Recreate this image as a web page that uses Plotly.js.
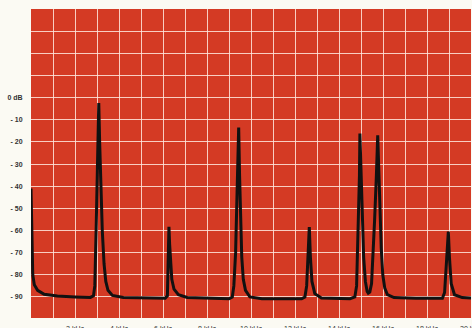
<!DOCTYPE html>
<html>
<head>
<meta charset="utf-8">
<script src="https://cdn.plot.ly/plotly-3.0.1.min.js"></script>
<style>
html,body{margin:0;padding:0;background:#fbfaf3;}
#chart{width:472px;height:328px;}
</style>
</head>
<body>
<div id="chart"></div>
<script>
// frequency (kHz) and level (dB)
const freqKHz = [
  0.0, 0.03, 0.08, 0.15, 0.3, 0.6, 1.2, 2.0, 2.7,
  2.84, 2.9, 2.96, 3.0, 3.05, 3.08, 3.12, 3.17, 3.24, 3.32, 3.4, 3.5, 3.7, 4.2, 5.0,
  6.1, 6.2, 6.23, 6.27, 6.3, 6.34, 6.4, 6.5, 6.7, 7.1, 8.0, 9.0,
  9.15, 9.22, 9.3, 9.36, 9.41, 9.44, 9.48, 9.52, 9.58, 9.65, 9.75, 9.95, 10.5, 12.3,
  12.45, 12.53, 12.6, 12.65, 12.7, 12.77, 12.9, 13.2, 14.5,
  14.72, 14.8, 14.88, 14.93, 14.95, 15.0, 15.06, 15.12, 15.2, 15.28, 15.33,
  15.4, 15.48, 15.55, 15.62, 15.7, 15.76, 15.8, 15.86, 15.92, 15.99, 16.08, 16.2, 16.5, 17.5,
  18.7, 18.8, 18.88, 18.97, 19.02, 19.1, 19.25, 19.6, 20.0
];
const levelDB = [
  -41, -60, -80, -84.5, -87, -88.8, -89.6, -90, -90.2,
  -89.5, -85, -60, -40, -15, -2.5, -20, -40, -60, -75, -83, -87, -89.3, -90.2, -90.5,
  -90.6, -89.5, -80, -58.3, -66, -75, -82, -86.5, -89, -90.2, -90.6, -90.8,
  -90, -85, -70, -50, -30, -13.5, -35, -55, -72, -82, -87, -90, -90.8, -90.8,
  -90, -85, -70, -58.5, -72, -83, -88.5, -90.5, -90.8,
  -90, -85, -60, -35, -16.2, -35, -55, -72, -83, -87.5, -88.3,
  -87.8, -84, -72, -55, -35, -17, -30, -50, -68, -80, -86, -89, -90.3, -90.6,
  -90.6, -88, -75, -60.5, -72, -84, -89, -90.3, -90.5
];

// axis ticks
const xTickVals = [0,1,2,3,4,5,6,7,8,9,10,11,12,13,14,15,16,17,18,19,20];
const xTickText = ["","","2 kHz","","4 kHz","","6 kHz","","8 kHz","","10 kHz","","12 kHz","","14 kHz","","16 kHz","","18 kHz","","20 kHz"];
const yTickVals = [30,20,10,0,-10,-20,-30,-40,-50,-60,-70,-80,-90];
const yTickText = ["","","","0 dB","- 10","- 20","- 30","- 40","- 50","- 60","- 70","- 80","- 90"];

const trace = {
  x: freqKHz, y: levelDB, type: 'scatter', mode: 'lines',
  line: {color: '#111111', width: 3, shape: 'linear'},
  hoverinfo: 'skip'
};

const gridCol = 'rgba(255,232,222,0.85)';
const layout = {
  width: 472, height: 328,
  margin: {l: 31, r: 1, t: 9, b: 10, pad: 0},
  paper_bgcolor: '#fbfaf3',
  plot_bgcolor: '#d43a24',
  showlegend: false,
  font: {family: 'Liberation Sans, Arial, sans-serif', size: 7, color: '#333333'},
  xaxis: {
    range: [0, 20], tickmode: 'array', tickvals: xTickVals, ticktext: xTickText,
    showgrid: true, gridcolor: gridCol, gridwidth: 1,
    zeroline: false, showline: false,
    ticks: 'outside', ticklen: 4, tickcolor: 'rgba(0,0,0,0)',
    ticklabeloverflow: 'allow',
    tickfont: {size: 7, color: '#333333'}, fixedrange: true
  },
  yaxis: {
    range: [-99.5, 40], tickmode: 'array', tickvals: yTickVals, ticktext: yTickText,
    showgrid: true, gridcolor: gridCol, gridwidth: 1,
    zeroline: false, showline: false,
    ticks: 'outside', ticklen: 6, tickcolor: 'rgba(0,0,0,0)',
    tickfont: {size: 7, color: '#333333', weight: 'bold'}, fixedrange: true
  }
};

Plotly.newPlot('chart', [trace], layout, {displayModeBar: false, staticPlot: true});
</script>
</body>
</html>
